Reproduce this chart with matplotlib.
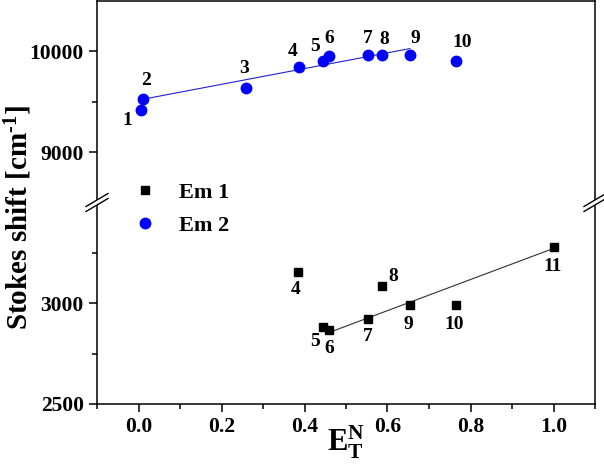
import numpy as np
import matplotlib
matplotlib.use('Agg')
import matplotlib.pyplot as plt
from matplotlib.patches import Polygon

plt.rcParams['font.family'] = ['Liberation Serif', 'DejaVu Serif']
plt.rcParams['font.weight'] = 'bold'
plt.rcParams['mathtext.fontset'] = 'custom'
plt.rcParams['mathtext.rm'] = 'Liberation Serif:bold'
plt.rcParams['mathtext.bf'] = 'Liberation Serif:bold'
plt.rcParams['mathtext.it'] = 'Liberation Serif:bold'

# Em 2 (upper part)
em2_ids = ['1', '2', '3', '4', '5', '6', '7', '8', '9', '10']
em2_x = [0.006, 0.012, 0.259, 0.387, 0.444, 0.460, 0.552, 0.586, 0.654, 0.764]
em2_y = [9417, 9528, 9633, 9848, 9906, 9956, 9963, 9960, 9960, 9906]
em2_fit = ['2', '3', '4', '5', '6', '7', '8', '9']

# Em 1 (lower part)
em1_ids = ['4', '5', '6', '7', '8', '9', '10', '11']
em1_x = [0.384, 0.444, 0.460, 0.552, 0.586, 0.654, 0.764, 1.000]
em1_y = [3156, 2883, 2866, 2923, 3084, 2993, 2993, 3277]
em1_fit = ['6', '7', '9', '11']

# label offsets in pixels (dx, dy)
em2_off = [(-14, -10), (3, 18), (-2, 20), (-6, 15), (-8, 14), (0, 17), (0, 17), (3, 16), (5, 17), (7, 18)]
em1_off = [(-2, -18), (-8, -15), (0, -18), (0, -18), (12, 10), (-2, -20), (-1, -20), (-1, -19)]

fig = plt.figure(figsize=(6.04, 4.71), dpi=100)
L, R, T, B = 97 / 604, 595 / 604, 1 - 1 / 471, 1 - 404 / 471
mid = (T + B) / 2
ax_hi = fig.add_axes([L, mid, R - L, T - mid])
ax_lo = fig.add_axes([L, B, R - L, mid - B])

def fitline(ax, ids, xs, ys, sel, color):
    xs = np.array(xs)
    ys = np.array(ys)
    m = np.array([i in sel for i in ids])
    p = np.polyfit(xs[m], ys[m], 1)
    xx = np.array([xs[m].min(), xs[m].max()])
    ax.plot(xx, np.polyval(p, xx), '-', color=color, lw=0.8, zorder=2)

fitline(ax_hi, em2_ids, em2_x, em2_y, em2_fit, '#2020d0')
fitline(ax_lo, em1_ids, em1_x, em1_y, em1_fit, '#303030')
h2, = ax_hi.plot(em2_x, em2_y, 'o', color='#0000ff', ms=7.5, mec='#0000ff', zorder=3, label='Em 2')
h1, = ax_lo.plot(em1_x, em1_y, 's', color='black', ms=6, zorder=3, label='Em 1')

for s, x, y, o in zip(em2_ids, em2_x, em2_y, em2_off):
    ax_hi.annotate(s, (x, y), xytext=o, textcoords='offset pixels',
                   ha='center', va='center', fontsize=14, fontweight='bold')
for s, x, y, o in zip(em1_ids, em1_x, em1_y, em1_off):
    ax_lo.annotate(s, (x, y), xytext=o, textcoords='offset pixels',
                   ha='center', va='center', fontsize=14, fontweight='bold')

for ax in (ax_hi, ax_lo):
    ax.set_xlim(-0.1, 1.1)
    for sp in ax.spines.values():
        sp.set_linewidth(1.1)
    ax.tick_params(axis='both', which='major', direction='out', length=6, width=1.1, labelsize=15.5)
    ax.tick_params(axis='both', which='minor', direction='out', length=3.5, width=1.1)
    ax.tick_params(right=False, top=False)

ax_hi.set_ylim(8500, 10500)
ax_hi.set_yticks([9000, 10000])
ax_hi.set_yticks([9500], minor=True)
ax_hi.spines['bottom'].set_visible(False)
ax_hi.tick_params(axis='x', which='both', bottom=False, labelbottom=False)

ax_lo.set_ylim(2500, 3500)
ax_lo.set_yticks([2500, 3000])
ax_lo.set_yticks([2750, 3250], minor=True)
ax_lo.spines['top'].set_visible(False)
ax_lo.set_xticks([0.0, 0.2, 0.4, 0.6, 0.8, 1.0])
ax_lo.set_xticks([-0.1, 0.1, 0.3, 0.5, 0.7, 0.9, 1.1], minor=True)
ax_lo.xaxis.set_major_formatter(plt.FormatStrFormatter('%.1f'))
ax_lo.set_xlabel(r'$\mathbf{E_T^N}$', fontsize=22)
ax_lo.xaxis.set_label_coords(0.5, -0.10)

fig.text(0.03, 1 - 218 / 471, r'Stokes shift [cm$^{\mathbf{\text{-}1}}$]', rotation=90,
         ha='center', va='center', fontsize=21, fontweight='bold')

# break marks on both spines
w = 498.0
h = 201.5
for xs in (0.0, 1.0):
    dx, dy, g = 11 / w, 6.5 / h, 2.5 / h
    poly = Polygon([(xs - dx, 1 - dy - g), (xs + dx, 1 + dy - g),
                    (xs + dx, 1 + dy + g), (xs - dx, 1 - dy + g)],
                   closed=True, facecolor='white', edgecolor='none',
                   transform=ax_lo.transAxes, clip_on=False, zorder=10)
    ax_lo.add_patch(poly)
    for off in (-g, g):
        ax_lo.plot([xs - dx, xs + dx], [1 - dy + off, 1 + dy + off], '-', color='black',
                   lw=1.0, transform=ax_lo.transAxes, clip_on=False, zorder=11)

fig.legend([h1, h2], ['Em 1', 'Em 2'], loc='center left',
           bbox_to_anchor=(112 / 604, 1 - 209 / 471), frameon=False,
           handlelength=1.2, handletextpad=0.9, labelspacing=0.55,
           prop={'weight': 'bold', 'size': 16})

fig.savefig('out.png', dpi=100)
